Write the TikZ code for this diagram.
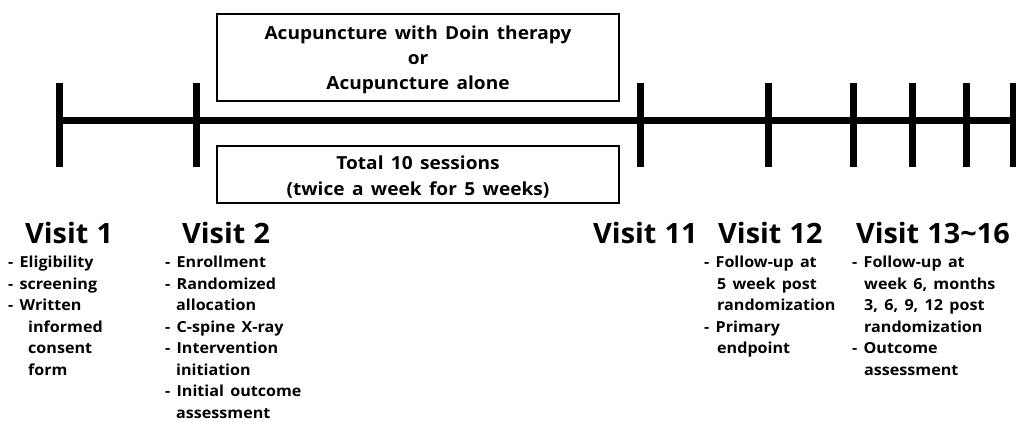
\documentclass[tikz,border=0pt]{standalone}
\usepackage{fontspec}
\setmainfont{Open Sans}[FakeStretch=1.06, WordSpace=1.5]
\newfontfamily\titlefont{Open Sans}[FakeStretch=1.03, WordSpace=1.1]
\begin{document}
\begin{tikzpicture}[x=1pt,y=-1pt,
  axisline/.style={line width=7pt},
  tickline/.style={line width=7pt},
  armbox/.style={draw, line width=2.5pt, minimum width=402pt, inner sep=0pt},
  armtext/.style={inner sep=0pt, align=center, font=\fontsize{18}{25.3}\selectfont\bfseries},
  visitlabel/.style={anchor=base west, inner sep=0pt, font=\titlefont\fontsize{28}{30}\selectfont\bfseries},
  bullets/.style={anchor=north west, inner sep=0pt, align=left, font=\fontsize{15.2}{21.5}\selectfont\bfseries}
]
\useasboundingbox (0,0) rectangle (1016,420);
\coordinate (a0) at (59,120);
\coordinate (aE) at (1016,120);
\draw[axisline] (a0) -- (aE);
\foreach \x [count=\i] in {59,196,640,768,853,912,966,1013}{
  \coordinate (t\i) at (\x,120);
  \draw[tickline] ([yshift=37pt]t\i) -- ([yshift=-47pt]t\i);
}
\node[armbox, minimum height=87pt] (arm) at (418,57.5) {};
\node[armtext] (armtxt) at ([yshift=-2.5pt]arm.center) {Acupuncture with Doin therapy\\or\\Acupuncture alone};
\node[armbox, minimum height=57pt] (sess) at (418,174.5) {};
\node[armtext] (sesstxt) at ([yshift=-2.5pt]sess.center) {Total 10 sessions\\(twice a week for 5 weeks)};

\node[visitlabel] (v1) at (25,243) {Visit 1};
\node[visitlabel] (v2) at (182,243) {Visit 2};
\node[visitlabel] (v11) at (593,243) {Visit 11};
\node[visitlabel] (v12) at (718,243) {Visit 12};
\node[visitlabel, anchor=base east] (v13) at (1010,243) {Visit 13\textasciitilde 16};

\node[bullets] (l1) at (8,256) {- Eligibility\\- screening\\- Written\\\hspace{20pt}informed\\\hspace{20pt}consent\\\hspace{20pt}form};
\node[bullets] (l2) at (165,256) {- Enrollment\\- Randomized\\\hspace{11pt}allocation\\- C-spine X-ray\\- Intervention\\\hspace{11pt}initiation\\- Initial outcome\\\hspace{11pt}assessment};
\node[bullets] (l12) at (704,256) {- Follow-up at\\\hspace{13pt}5 week post\\\hspace{13pt}randomization\\- Primary\\\hspace{13pt}endpoint};
\node[bullets] (l13) at (852,256) {- Follow-up at\\\hspace{12pt}week 6, months\\\hspace{12pt}3, 6, 9, 12 post\\\hspace{12pt}randomization\\- Outcome\\\hspace{12pt}assessment};
\end{tikzpicture}
\end{document}
